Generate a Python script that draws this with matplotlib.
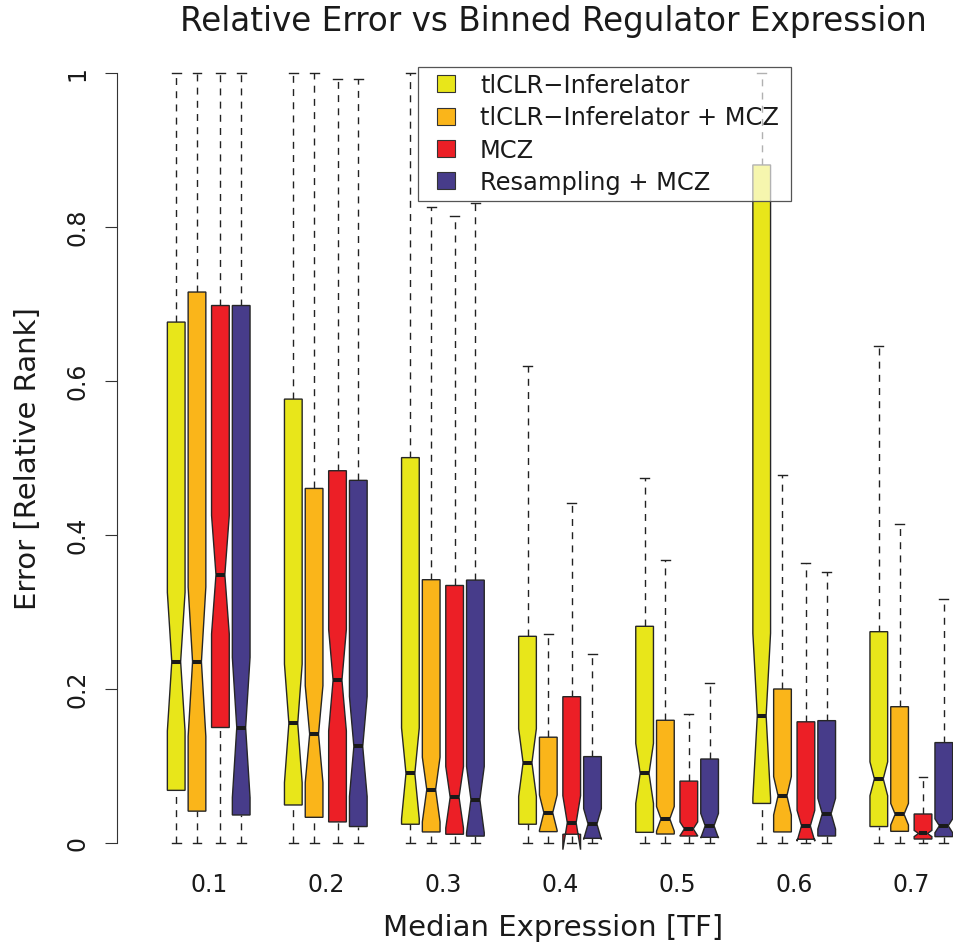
import matplotlib
matplotlib.use('Agg')
import matplotlib.pyplot as plt
from matplotlib.patches import Rectangle
import numpy as np

# ---------------- data ----------------
groups = ['0.1', '0.2', '0.3', '0.4', '0.5', '0.6', '0.7']
methods = ['tlCLR\u2212Inferelator', 'tlCLR\u2212Inferelator + MCZ', 'MCZ', 'Resampling + MCZ']
colors = ['#E8E61A', '#FAB51A', '#EC1F26', '#473C8A']

# tlCLR-Inferelator
tl_lo = [0, 0, 0, 0, 0, 0, 0]
tl_q1 = [0.069, 0.050, 0.025, 0.025, 0.0145, 0.052, 0.022]
tl_med = [0.236, 0.156, 0.091, 0.105, 0.091, 0.166, 0.084]
tl_q3 = [0.677, 0.577, 0.501, 0.269, 0.282, 0.881, 0.275]
tl_hi = [1.0, 1.0, 1.0, 0.620, 0.474, 1.0, 0.646]
tl_notch = [0.090, 0.077, 0.059, 0.044, 0.039, 0.107, 0.022]

# tlCLR-Inferelator + MCZ
tm_lo = [0, 0, 0, 0, 0, 0, 0]
tm_q1 = [0.042, 0.034, 0.015, 0.0154, 0.0123, 0.015, 0.0158]
tm_med = [0.236, 0.142, 0.070, 0.040, 0.032, 0.062, 0.038]
tm_q3 = [0.716, 0.461, 0.3425, 0.138, 0.160, 0.2006, 0.1776]
tm_hi = [1.0, 1.0, 0.826, 0.2716, 0.3685, 0.4784, 0.4148]
tm_notch = [0.097, 0.063, 0.042, 0.023, 0.016, 0.025, 0.014]

# MCZ
mc_lo = [0, 0, 0, 0, 0, 0, 0]
mc_q1 = [0.1506, 0.028, 0.012, 0.012, 0.0097, 0.0055, 0.0058]
mc_med = [0.349, 0.212, 0.060, 0.027, 0.019, 0.023, 0.013]
mc_q3 = [0.6985, 0.484, 0.335, 0.1906, 0.081, 0.158, 0.0383]
mc_hi = [1.0, 0.993, 0.815, 0.4425, 0.168, 0.3646, 0.086]
mc_notch = [0.077, 0.066, 0.040, 0.035, 0.009, 0.020, 0.004]

# Resampling + MCZ
rs_lo = [0, 0, 0, 0, 0, 0, 0]
rs_q1 = [0.037, 0.022, 0.0096, 0.0067, 0.008, 0.0097, 0.0089]
rs_med = [0.1506, 0.126, 0.057, 0.0253, 0.023, 0.0387, 0.023]
rs_q3 = [0.6985, 0.4715, 0.342, 0.1128, 0.1097, 0.1595, 0.131]
rs_hi = [1.0, 0.993, 0.832, 0.246, 0.208, 0.3525, 0.317]
rs_notch = [0.091, 0.065, 0.043, 0.020, 0.016, 0.020, 0.009]

series = [
    (tl_lo, tl_q1, tl_med, tl_q3, tl_hi, tl_notch),
    (tm_lo, tm_q1, tm_med, tm_q3, tm_hi, tm_notch),
    (mc_lo, mc_q1, mc_med, mc_q3, mc_hi, mc_notch),
    (rs_lo, rs_q1, rs_med, rs_q3, rs_hi, rs_notch),
]

# ---------------- layout ----------------
W, H = 954, 947
fig = plt.figure(figsize=(W / 100, H / 100), dpi=100)

def fx(px):
    return px / W

def fy(py):
    return 1 - py / H

ax_left, ax_right = 117, 989
ax_top, ax_bot = 42.5, 874.3
ax = fig.add_axes([fx(ax_left), fy(ax_bot), (ax_right - ax_left) / W, (ax_bot - ax_top) / H])
ax.set_xlim(0.2169, 7.6635)
ax.set_ylim(-0.04, 1.04)

offsets = [-0.2775, -0.100, 0.100, 0.2775]
wid = 0.0756
nf = 0.5
edge = '#262626'
dash = (0, (5, 4.5))

for m, (lo, q1, med, q3, hi, nt) in enumerate(series):
    for g in range(len(groups)):
        x = g + 1 + offsets[m]
        xs = x + wid * np.array([-1, 1, 1, nf, 1, 1, -1, -1, -nf, -1])
        ys = [q1[g], q1[g], med[g] - nt[g], med[g], med[g] + nt[g], q3[g], q3[g],
              med[g] + nt[g], med[g], med[g] - nt[g]]
        ax.fill(xs, ys, facecolor=colors[m], edgecolor=edge, lw=1.0, zorder=2)
        ax.plot([x - wid * nf, x + wid * nf], [med[g], med[g]], color='#1a1a1a',
                lw=2.9, solid_capstyle='butt', zorder=3)
        ax.plot([x, x], [q3[g], hi[g]], color='#222222', lw=1.0, ls=dash, zorder=1)
        ax.plot([x, x], [lo[g], q1[g]], color='#222222', lw=1.0, ls=dash, zorder=1)
        ax.plot([x - wid * 0.5, x + wid * 0.5], [hi[g], hi[g]], color='#222222', lw=1.0, zorder=1)
        ax.plot([x - wid * 0.5, x + wid * 0.5], [lo[g], lo[g]], color='#222222', lw=1.0, zorder=1)

for s in ['top', 'right', 'bottom']:
    ax.spines[s].set_visible(False)
ax.spines['left'].set_bounds(0, 1)
ax.spines['left'].set_color('#333333')
ax.spines['left'].set_linewidth(0.8)

ax.set_yticks([0, 0.2, 0.4, 0.6, 0.8, 1.0])
ax.set_yticklabels(['0', '0.2', '0.4', '0.6', '0.8', '1'])
ax.tick_params(axis='y', length=8.6, width=0.8, color='#333333', pad=11,
               labelsize=17, labelrotation=90, labelcolor='#1a1a1a')
for lbl in ax.get_yticklabels():
    lbl.set_va('center')
    lbl.set_ha('right')

ax.set_xticks(np.arange(1, len(groups) + 1))
ax.set_xticklabels(groups)
ax.tick_params(axis='x', length=0, pad=-1, labelsize=17, labelcolor='#1a1a1a')

ax.set_xlabel('Median Expression [TF]', fontsize=21, color='#1a1a1a')
ax.xaxis.set_label_coords(0.5, (ax_bot - 928) / (ax_bot - ax_top))
ax.xaxis.label.set_va('center')
ax.set_ylabel('Error [Relative Rank]', fontsize=21, color='#1a1a1a')
ax.yaxis.set_label_coords((28 - ax_left) / (ax_right - ax_left), 0.5)
ax.yaxis.label.set_va('center')

fig.text(fx(553), fy(22), 'Relative Error vs Binned Regulator Expression',
         ha='center', va='center', fontsize=23.5, color='#1a1a1a')

# ---------------- legend ----------------
lx0, lx1, ly0, ly1 = 418, 791, 67, 201
fig.add_artist(Rectangle((fx(lx0), fy(ly1)), (lx1 - lx0) / W, (ly1 - ly0) / H,
                         transform=fig.transFigure, facecolor='white', alpha=0.65,
                         edgecolor='none', zorder=5))
fig.add_artist(Rectangle((fx(lx0), fy(ly1)), (lx1 - lx0) / W, (ly1 - ly0) / H,
                         transform=fig.transFigure, facecolor='none',
                         edgecolor='#555555', lw=0.9, zorder=6))
rows = [84, 116.5, 149, 181]
for i, (lab, c) in enumerate(zip(methods, colors)):
    cy = rows[i]
    fig.add_artist(Rectangle((fx(437), fy(cy + 8.5)), 18 / W, 17 / H,
                             transform=fig.transFigure, facecolor=c,
                             edgecolor='#333333', lw=0.8, zorder=7))
    fig.text(fx(480), fy(cy + 8.7), lab, ha='left', va='baseline',
             fontsize=17.4, color='#1a1a1a', zorder=7)

fig.savefig('out.png', dpi=100)
